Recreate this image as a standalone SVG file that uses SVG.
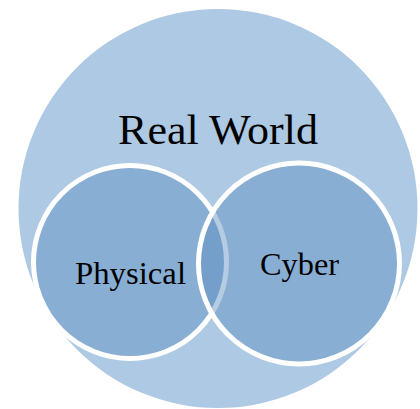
<svg xmlns="http://www.w3.org/2000/svg" width="420" height="409" viewBox="0 0 420 409">
<style>
.lbl{font-family:"Liberation Serif","DejaVu Serif",serif;fill:#000;text-anchor:middle}
.inner{fill:#5d8fc2;fill-opacity:0.45;stroke:#fff;stroke-width:5}
</style>
<rect width="420" height="409" fill="#fff"/>
<g id="real-world">
<circle cx="218" cy="208.5" r="199.5" fill="#adc9e3"/>
<text class="lbl" x="218" y="144" font-size="43" textLength="200" lengthAdjust="spacingAndGlyphs">Real World</text>
</g>
<g id="physical">
<circle class="inner" cx="130" cy="262" r="96.5"/>
<text class="lbl" x="130.5" y="284" font-size="31" textLength="111" lengthAdjust="spacingAndGlyphs">Physical</text>
</g>
<g id="cyber">
<circle class="inner" cx="299" cy="263.5" r="100.5"/>
<text class="lbl" x="299.5" y="275" font-size="31" textLength="79" lengthAdjust="spacingAndGlyphs">Cyber</text>
</g>
<g id="connectors"/>
</svg>
